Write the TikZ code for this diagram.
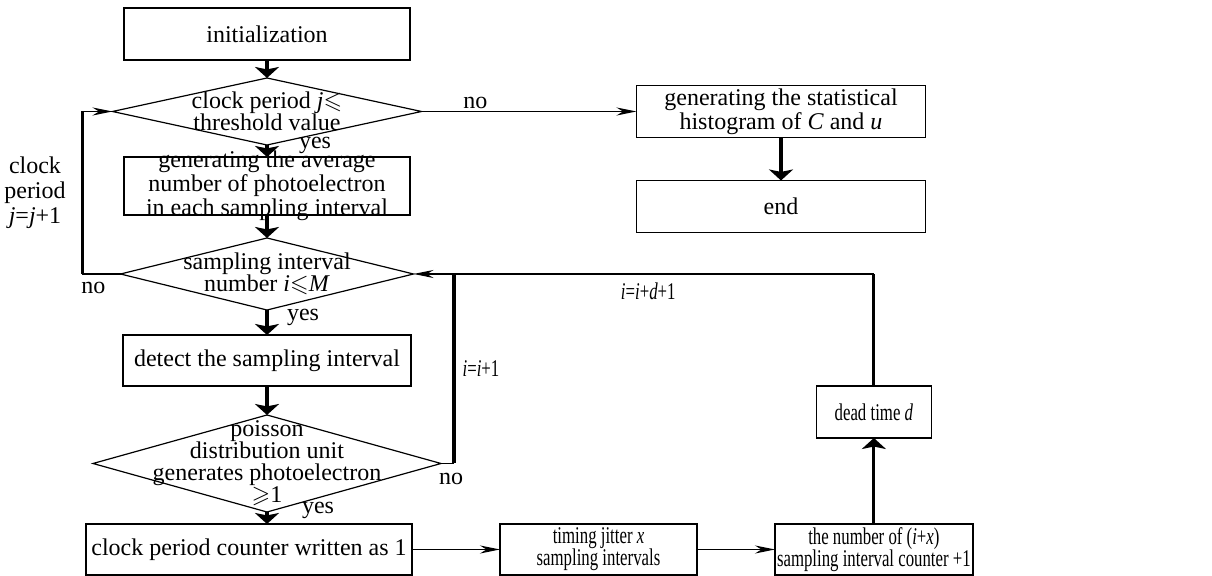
\documentclass[tikz,border=0pt]{standalone}
\usepackage{amsmath,amssymb}
\usepackage{graphicx}
\usepackage{fontspec}
\setmainfont{Liberation Serif}
\usepackage{tikz}
\usetikzlibrary{positioning,arrows.meta,shapes.geometric,calc}
\newcommand{\flowfont}{\fontsize{12pt}{11pt}\selectfont}
\newcommand{\nrw}[1]{\scalebox{0.7}[1]{#1}}
\newcommand{\vv}[1]{\textit{#1}}
\tikzset{
    process/.style={
        rectangle,
        draw,
        line width=0.8pt,
        minimum width=143pt,
        minimum height=26pt,
        align=center,
        inner sep=1pt,
        outer sep=0pt,
        font=\flowfont,
    },
    decision/.style={
        diamond,
        draw,
        line width=0.6pt,
        inner sep=0pt,
        outer sep=0pt,
    },
    dtext/.style={
        align=center,
        inner sep=0pt,
        font=\flowfont,
    },
    tag/.style={
        inner sep=1pt,
        font=\flowfont,
    },
    flow/.style={
        -{Stealth[width=12pt,length=5.5pt,inset=1.2pt]},
        line width=1.6pt,
    },
    branch/.style={
        -{Stealth[width=4pt,length=10pt]},
        line width=0.6pt,
    },
    loopline/.style={
        line width=1.6pt,
    },
    thinline/.style={
        line width=0.6pt,
    },
}

\begin{document}
\begin{tikzpicture}
        \useasboundingbox (0,0) rectangle (606pt,-288pt);

        % main column
        \node[process] (init) at (133.5pt,-17pt) {initialization};
        \node[decision, minimum width=154.5pt, minimum height=33.5pt, below=9pt of init] (cond1) {};
        \node[dtext] (cond1txt) at (cond1) {clock period \vv{j}$\leqslant$\\threshold value};
        \node[process, minimum height=29pt, below=6pt of cond1] (avg) {};
        \node[dtext, font=\fontsize{12pt}{10.5pt}\selectfont] (avgtxt) at (avg) {generating the average\\number of photoelectron\\in each sampling interval};
        \node[decision, minimum width=146.5pt, minimum height=36pt, below=11.5pt of avg] (cond2) {};
        \node[dtext] (cond2txt) at (cond2) {sampling interval\\number \vv{i}$\leqslant$\vv{M}};
        \node[process, minimum width=144pt, minimum height=25.5pt, below=12.5pt of cond2] (detect) {detect the sampling interval};
        \node[decision, minimum width=174pt, minimum height=48.5pt, below=14.5pt of detect] (cond3) {};
        \node[dtext] (cond3txt) at (cond3) {poisson\\distribution unit\\generates photoelectron\\$\geqslant$1};
        \node[process, minimum width=163pt, minimum height=25.5pt, below=6pt of cond3, xshift=-9pt] (counter) {clock period counter written as 1};

        % right side
        \node[process, minimum width=144.5pt, right=107.5pt of cond1] (hist) {generating the statistical\\histogram of \vv{C} and \vv{u}};
        \node[process, minimum width=144.5pt, below=21.5pt of hist] (end) {end};
        \node[process, minimum width=98.5pt, minimum height=25.5pt, right=44pt of counter] (jitter) {\nrw{timing jitter \vv{x}}\\\nrw{sampling intervals}};
        \node[process, minimum width=98pt, minimum height=25.5pt, right=39pt of jitter] (number) {\nrw{the number of (\vv{i}+\vv{x})}\\\nrw{sampling interval counter +1}};
        \node[process, minimum width=57.5pt, above=43pt of number] (dead) {\nrw{dead time \vv{d}}};

        % main flow
        \draw[flow] (init) -- (cond1);
        \draw[flow] (cond1) -- (avg);
        \draw[flow] (avg) -- (cond2);
        \draw[flow] (cond2) -- (detect);
        \draw[flow] (detect) -- (cond3);
        \draw[flow] (cond3.south) -- (cond3.south |- counter.north);
        \draw[flow] (hist) -- (end);
        \draw[flow] (number) -- (dead);

        \draw[branch] (cond1.east) -- (cond1.east -| hist.west) node[tag, above, pos=0.25] (nohist) {no};
        \draw[branch] (counter) -- (jitter);
        \draw[branch] (jitter) -- (number);

        % loops
        \coordinate (jloop) at ([xshift=-19pt]cond2.west);
        \draw[branch] (cond2.west) -- (jloop) |- (cond1.west);
        \draw[loopline] (jloop) -- (jloop |- cond1.west);

        \coordinate (iloop) at ([xshift=6.5pt]cond3.east);
        \draw[thinline] (cond3.east) -- (iloop);
        \draw[loopline] (iloop) -- (iloop |- cond2.east);

        \coordinate (dloop) at (dead.north |- cond2.east);
        \draw[loopline] (dead) -- (dloop);
        \draw[branch] (dloop) -- (cond2.east) node[tag, below=3pt, pos=0.49] (dinc) {\nrw{\vv{i}=\vv{i}+\vv{d}+1}};

        % labels
        \node[tag] (yes1) at ([xshift=24pt]cond1.south) {yes};
        \node[tag] (yes2) at ([xshift=18pt,yshift=-3.5pt]cond2.south) {yes};
        \node[tag] (yes3) at ([xshift=25.5pt,yshift=1pt]cond3.south) {yes};
        \node[tag] (noleft) at ([xshift=-13.5pt,yshift=-7pt]cond2.west) {no};
        \node[tag] (noright) at ([xshift=5pt,yshift=-7.5pt]cond3.east) {no};
        \node[tag, align=center, font=\fontsize{12pt}{12.5pt}\selectfont] (jinc) at (17.5pt,-96.5pt) {clock\\period\\\vv{j}=\vv{j}+1};
        \node[tag] (iinc) at ([xshift=13.5pt,yshift=47.5pt]iloop) {\nrw{\vv{i}=\vv{i}+1}};
    \end{tikzpicture}
\end{document}
